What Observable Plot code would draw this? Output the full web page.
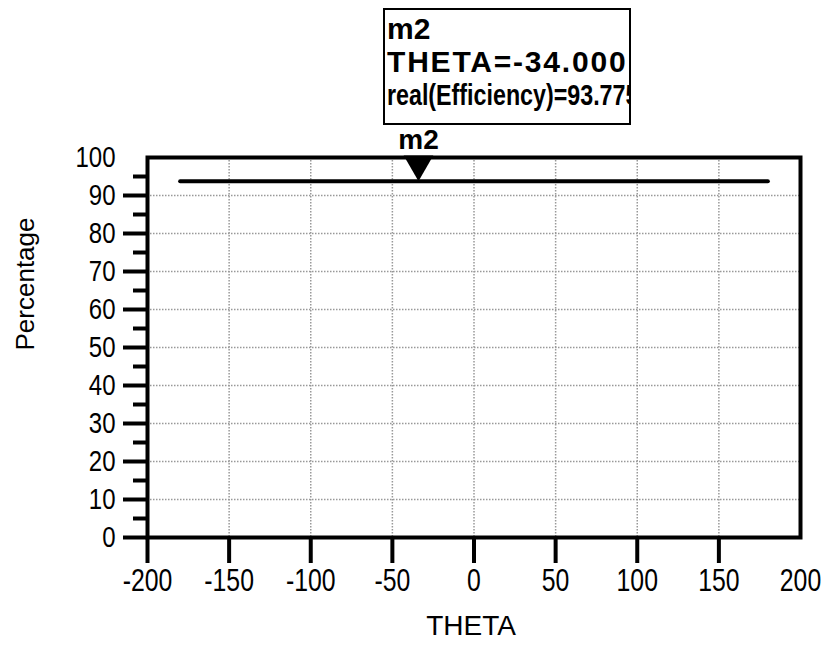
<!DOCTYPE html>
<html>
<head>
<meta charset="utf-8">
<script src="https://cdn.jsdelivr.net/npm/d3@7"></script>
<script src="https://cdn.jsdelivr.net/npm/@observablehq/plot@0.6"></script>
<style>
  html, body { margin: 0; padding: 0; background: #fff; }
  #wrap { position: relative; width: 827px; height: 653px; overflow: hidden; }
  #box {
    position: absolute; left: 383px; top: 8px; width: 248px; height: 117px;
    border: 2px solid #000; background: #fff; overflow: hidden; white-space: nowrap;
    font-family: "Liberation Sans", Arial, sans-serif; font-weight: bold; font-size: 30px;
    line-height: 31px; padding-left: 2px; padding-top: 3px; box-sizing: border-box;
  }
  #box div { height: 33px; transform-origin: left center; }
  #box .l2 { letter-spacing: 1.8px; }
  #box .l3 { transform: scaleX(0.775); }
</style>
</head>
<body>
<div id="wrap"></div>
<script>
// Data
const theta = [-180, 180];
const efficiency = [93.775, 93.775];
const markerName = "m2";
const markerTheta = -34;
const markerValue = 93.775;
const xTicks = [-200, -150, -100, -50, 0, 50, 100, 150, 200];
const xTickLines = [-200, -150, -100, -50, 0, 50, 100, 150];
const yTicks = [0, 10, 20, 30, 40, 50, 60, 70, 80, 90, 100];
const yTickLines = [0, 10, 20, 30, 40, 50, 60, 70, 80, 90];
const yMinorTicks = [5, 15, 25, 35, 45, 55, 65, 75, 85, 95];
const xLabel = "THETA";
const yLabel = "Percentage";

const series = theta.map((t, i) => ({theta: t, value: efficiency[i]}));
const marker = [{theta: markerTheta, value: markerValue, name: markerName}];
const tickFont = '"Liberation Sans", Arial, sans-serif';

const plot = Plot.plot({
  width: 827,
  height: 653,
  marginLeft: 147,
  marginRight: 27,
  marginTop: 157,
  marginBottom: 116,
  style: {background: "#fff", fontFamily: '"Liberation Sans", Arial, sans-serif', overflow: "visible"},
  x: {domain: [-200, 200]},
  y: {domain: [0, 100]},
  marks: [
    Plot.gridX(xTicks, {stroke: "#999", strokeOpacity: 1, strokeWidth: 1.5, strokeDasharray: "1.5,1.5"}),
    Plot.gridY(yTicks, {stroke: "#999", strokeOpacity: 1, strokeWidth: 1.5, strokeDasharray: "1.5,1.5"}),
    // x axis tick lines and labels
    Plot.axisX(xTickLines, {tickSize: 26, strokeWidth: 4, text: null, label: null}),
    Plot.axisX(xTicks, {tickSize: 0, tickPadding: 31, fontSize: 31, fontFamily: tickFont, fill: "#000", label: null, tickFormat: d => String(d)}),
    // y axis tick lines and labels
    Plot.axisY(yTickLines, {tickSize: 24, strokeWidth: 4, text: null, label: null}),
    Plot.axisY(yMinorTicks, {tickSize: 14, strokeWidth: 4, text: null, label: null}),
    Plot.axisY(yTicks, {tickSize: 0, tickPadding: 32, fontSize: 30, fontFamily: tickFont, fill: "#000", label: null, tickFormat: d => String(d)}),
    Plot.frame({stroke: "#000", strokeWidth: 4}),
    Plot.line(series, {x: "theta", y: "value", stroke: "#000", strokeWidth: 4}),
    Plot.dot(marker, {x: "theta", y: "value", symbol: "triangle", rotate: 180, r: 11, fill: "#000", stroke: "none", dy: -17}),
    Plot.text(marker, {x: "theta", y: "value", text: "name", fontSize: 28, fontWeight: "bold", dy: -41, fill: "#000"}),
    Plot.text([xLabel], {frameAnchor: "bottom", text: d => d, fontSize: 28, fontWeight: 300, dy: 97, dx: -3, fill: "#000"}),
    Plot.text([yLabel], {frameAnchor: "left", text: d => d, fontSize: 26, rotate: -90, dx: -122, dy: 3, fill: "#000"})
  ]
});

// condense tick label glyphs horizontally, like the reference's narrow digits
for (const t of plot.querySelectorAll('g[aria-label="x-axis tick label"] text, g[aria-label="y-axis tick label"] text')) {
  const tr = t.getAttribute("transform");
  if (tr) t.setAttribute("transform", `${tr} scale(0.8,1)`);
}

const wrap = document.getElementById("wrap");
wrap.appendChild(plot);
const box = document.createElement("div");
box.id = "box";
[markerName, "THETA=" + markerTheta.toFixed(3), "real(Efficiency)=" + markerValue.toFixed(3)].forEach((t, i) => {
  const d = document.createElement("div");
  d.className = "l" + (i + 1);
  d.textContent = t;
  box.appendChild(d);
});
wrap.appendChild(box);
</script>
</body>
</html>
